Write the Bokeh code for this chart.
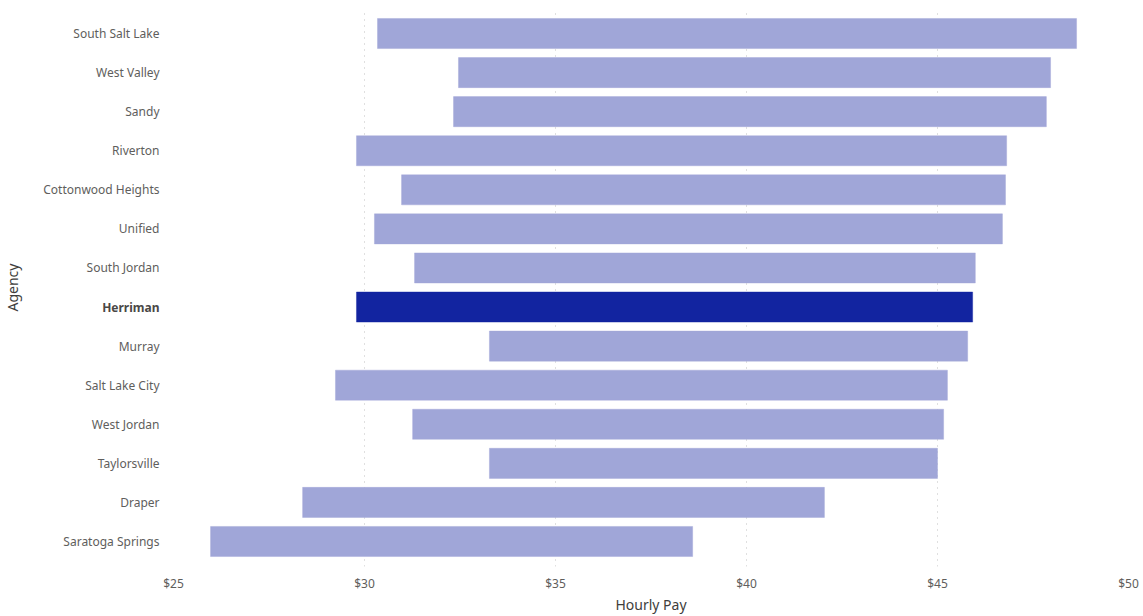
from bokeh.plotting import figure
from bokeh.layouts import row
from bokeh.models import (ColumnDataSource, FactorRange, FixedTicker, PrintfTickFormatter, Range1d)
from bokeh.core.properties import value, field
from bokeh.embed import file_html
from bokeh.resources import INLINE

agencies = ["South Salt Lake", "West Valley", "Sandy", "Riverton", "Cottonwood Heights",
            "Unified", "South Jordan", "Herriman", "Murray", "Salt Lake City",
            "West Jordan", "Taylorsville", "Draper", "Saratoga Springs"]
min_pay = [30.34, 32.46, 32.33, 29.79, 30.97, 30.26, 31.31, 29.79, 33.27, 29.24,
           31.26, 33.27, 28.38, 25.97]
max_pay = [48.64, 47.96, 47.85, 46.81, 46.78, 46.70, 45.99, 45.92, 45.79, 45.26,
           45.16, 45.00, 42.04, 38.59]
highlight = "Herriman"
x_ticks = [25, 30, 35, 40, 45, 50]

LIGHT = "#A0A6D8"
DARK = "#1224A0"
FONT = "Noto Sans"
LABEL_GREY = "#605E5C"
TITLE_GREY = "#403E3C"

factors = list(reversed(agencies))
colors = [DARK if a == highlight else LIGHT for a in agencies]
src = ColumnDataSource(dict(agency=agencies, lo=min_pay, hi=max_pay, color=colors))

yr = FactorRange(factors=factors, range_padding=0.02)

# ---- main chart ----
p = figure(width=983, height=616, output_backend="svg", toolbar_location=None,
           y_range=yr, x_range=(25, 50),
           min_border_left=13, min_border_right=15, min_border_top=8, min_border_bottom=50)
p.outline_line_color = None
p.background_fill_color = "white"
p.border_fill_color = "white"

p.hbar(y="agency", left="lo", right="hi", height=0.77, fill_color="color",
       line_color="color", line_alpha=0.4, source=src)

p.xaxis.ticker = FixedTicker(ticks=x_ticks)
p.xaxis.formatter = PrintfTickFormatter(format="$%d")
ax = p.xaxis[0]
ax.axis_line_color = None
ax.major_tick_line_color = None
ax.minor_tick_line_color = None
ax.major_tick_in = 0
ax.major_tick_out = 0
ax.minor_tick_in = 0
ax.minor_tick_out = 0
ax.major_label_text_font = FONT
ax.major_label_text_font_size = "12px"
ax.major_label_text_color = LABEL_GREY
ax.axis_label = "Hourly Pay"
ax.axis_label_text_font = FONT
ax.axis_label_text_font_size = "14px"
ax.axis_label_text_color = TITLE_GREY
ax.axis_label_text_font_style = "normal"
ax.major_label_standoff = 8
ax.axis_label_standoff = 0
p.yaxis.visible = False

p.ygrid.grid_line_color = None
p.xgrid.grid_line_color = "#C0C0C0"
p.xgrid.grid_line_dash = "1 5"
p.xgrid.grid_line_width = 1

# ---- category label panel (left) ----
lab_src = ColumnDataSource(dict(
    agency=agencies,
    x=[1] * len(agencies),
    weight=["bold" if a == highlight else "normal" for a in agencies],
    tcolor=["#4A4846" if a == highlight else LABEL_GREY for a in agencies],
))

pl = figure(width=160, height=616, output_backend="svg", toolbar_location=None,
            y_range=yr, x_range=Range1d(0, 1), title="Agency", title_location="left",
            x_axis_location=None, y_axis_location=None,
            min_border_left=8, min_border_right=0, min_border_top=8, min_border_bottom=50)
pl.outline_line_color = None
pl.background_fill_color = "white"
pl.border_fill_color = "white"
pl.xgrid.grid_line_color = None
pl.ygrid.grid_line_color = None
pl.title.align = "center"
pl.title.text_font = FONT
pl.title.text_font_size = "14px"
pl.title.text_font_style = "normal"
pl.title.text_color = TITLE_GREY
pl.title.standoff = 0

pl.text(x="x", y="agency", text="agency", source=lab_src, x_offset=-1,
        text_align="right", text_baseline="middle", text_font=value(FONT),
        text_font_size=value("12px"), text_font_style=field("weight"),
        text_color="tcolor")

layout = row(pl, p)
open("out.html", "w").write(file_html(layout, INLINE))
